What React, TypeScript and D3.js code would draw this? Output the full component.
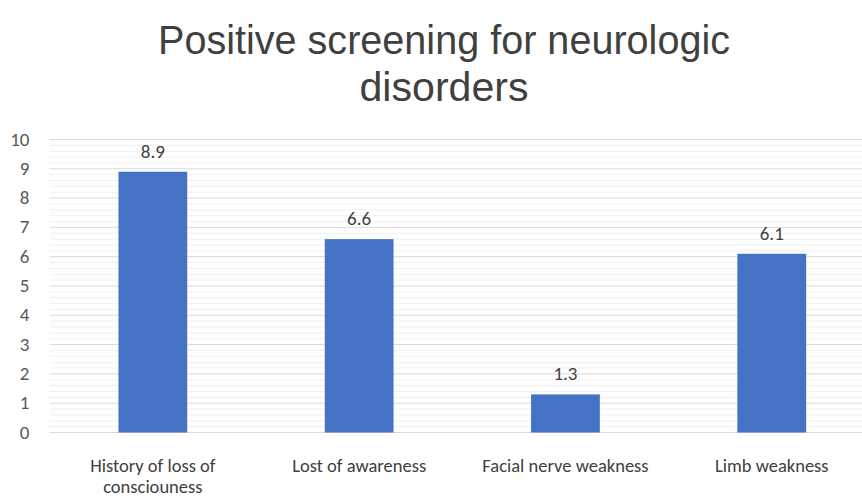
import React from "react";
import * as d3 from "d3";

const categories = ["History of loss of|consciouness", "Lost of awareness", "Facial nerve weakness", "Limb weakness"];
const values = [8.9, 6.6, 1.3, 6.1];
const yTicks = [0, 1, 2, 3, 4, 5, 6, 7, 8, 9, 10];
const titleLines = ["Positive screening for neurologic", "disorders"];
const titleWidths = [572, 169];

const W = 862;
const H = 497;

export default function App() {
  const x = d3.scaleBand<string>().domain(categories).range([49.7, 874.9]).paddingInner(0).paddingOuter(0);
  const y = d3.scaleLinear().domain([0, 10]).range([432.5, 139.5]);
  const minor = d3.range(0, 10.001, 0.2).filter((v) => Math.abs(v - Math.round(v)) > 1e-6);
  const bw = x.bandwidth() / 3;
  const font = "Carlito, Calibri, 'Open Sans', sans-serif";
  return (
    <svg width={W} height={H} style={{ position: "absolute", left: 0, top: 0, background: "#fff" }}>
      <rect width={W} height={H} fill="#fff" />
      {titleLines.map((t, i) => (
        <text key={i} x={444 - titleWidths[i] / 2} y={54 + i * 47} fontFamily="'Liberation Sans', Arial, sans-serif"
          fontSize={41} fill="#404040" textLength={titleWidths[i]} lengthAdjust="spacingAndGlyphs">{t}</text>
      ))}
      {minor.map((v) => (
        <line key={"m" + v} x1={49.7} x2={W} y1={y(v)} y2={y(v)} stroke="#efefef" strokeWidth={1} />
      ))}
      {yTicks.map((v) => (
        <line key={"g" + v} x1={49.7} x2={W} y1={y(v)} y2={y(v)} stroke="#d9d9d9" strokeWidth={1} />
      ))}
      {yTicks.map((v) => (
        <text key={"t" + v} x={29.5} y={y(v) + 6} textAnchor="end" fontFamily={font} fontSize={19} fill="#595959">{v}</text>
      ))}
      {categories.map((c, i) => {
        const cx = (x(c) as number) + x.bandwidth() / 2;
        return (
          <g key={c}>
            <rect x={cx - bw / 2} y={y(values[i])} width={bw} height={y(0) - y(values[i])} fill="#4472C4" />
            <text x={cx} y={y(values[i]) - 14} textAnchor="middle" fontFamily={font} fontSize={19} fill="#404040">{values[i].toFixed(1)}</text>
            {c.split("|").map((line, j) => (
              <text key={j} x={cx} y={472 + j * 21} textAnchor="middle" fontFamily={font} fontSize={18.5} fill="#404040">{line}</text>
            ))}
          </g>
        );
      })}
    </svg>
  );
}
